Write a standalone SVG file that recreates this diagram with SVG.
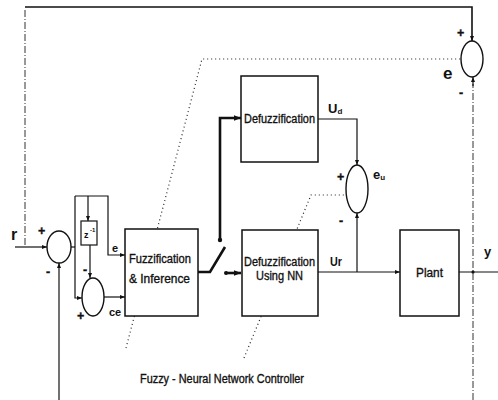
<svg xmlns="http://www.w3.org/2000/svg" width="498" height="400" viewBox="0 0 498 400">
<style>
.ln{fill:none;stroke:#111;stroke-width:1.2}
.thk{fill:none;stroke:#111;stroke-width:2.6}
.dot{fill:none;stroke:#222;stroke-width:1.2;stroke-dasharray:1 3}
.dsh{fill:none;stroke:#333;stroke-width:1;stroke-dasharray:7 2 1 2}
.box{fill:#fff;stroke:#111;stroke-width:1.5}
.sum{fill:#fff;stroke:#111;stroke-width:1.4}
text{font-family:"Liberation Sans",Arial,sans-serif;fill:#111}
.t{font-size:12.5px;stroke:#111;stroke-width:0.35}
.b{font-weight:bold}
</style>
<defs>
<marker id="ah" viewBox="0 0 10 10" refX="10" refY="5" markerWidth="5" markerHeight="5" orient="auto" markerUnits="userSpaceOnUse">
<path d="M0,1 L10,5 L0,9 z" fill="#111"/>
</marker>
<marker id="ahb" viewBox="0 0 10 10" refX="10" refY="5" markerWidth="7" markerHeight="7" orient="auto" markerUnits="userSpaceOnUse">
<path d="M0,1 L10,5 L0,9 z" fill="#111"/>
</marker>
</defs>

<g id="connectors">
<path class="dsh" d="M25,245 V8"/>
<path class="ln" d="M25,7 H472 V41" marker-end="url(#ah)" style="stroke-width:1.6"/>
<path class="ln" d="M15,247 H47" marker-end="url(#ah)"/>
<path class="ln" d="M59,400 V263" marker-end="url(#ah)"/>
<path class="ln" d="M71,247 H75"/>
<path class="ln" d="M75,196 V298 H82" marker-end="url(#ah)"/>
<path class="ln" d="M75,196 H108 V255 H125" marker-end="url(#ah)"/>
<path class="ln" d="M88,196 V221" marker-end="url(#ah)"/>
<path class="ln" d="M90,245 V278" marker-end="url(#ah)"/>
<path class="ln" d="M104,297 H125" marker-end="url(#ah)"/>
<path class="thk" d="M198,272 H210 L225,247"/>
<path class="thk" d="M220,240 V118 H241" marker-end="url(#ahb)"/>
<circle cx="220" cy="240" r="2.2" fill="#111"/>
<circle cx="226" cy="273" r="2" fill="#111"/>
<path class="thk" d="M226,273 H241" marker-end="url(#ahb)"/>
<path class="ln" d="M318,119 H357 V165" marker-end="url(#ah)"/>
<path class="ln" d="M318,272 H400" marker-end="url(#ah)"/>
<path class="ln" d="M357,272 V213" marker-end="url(#ah)"/>
<path class="dsh" d="M473,400 V84"/>
<path class="ln" d="M473,86 V77" marker-end="url(#ah)"/>
<path class="ln" d="M459,272 H498"/>
<circle cx="473" cy="272" r="1.6" fill="#111"/>
<path class="dot" d="M126,348 L202,59 H461"/>
<path class="dot" d="M244,358 L311,195 H346"/>
</g>

<g id="sum-r">
<ellipse class="sum" cx="59" cy="247" rx="12" ry="16"/>
<text x="38" y="235" class="t b">+</text>
<text x="46" y="276" class="t b">-</text>
</g>
<g id="z-delay">
<rect class="box" x="81" y="221" width="16" height="24" style="stroke-width:1.2"/>
<text x="84" y="238" style="font-size:9px;font-weight:bold">z</text>
<text x="90" y="232" style="font-size:6px;font-weight:bold">-1</text>
</g>
<g id="sum-ce">
<ellipse class="sum" cx="93" cy="297" rx="11" ry="19"/>
<text x="83" y="274" class="t b">-</text>
<text x="77" y="320" class="t b">+</text>
</g>
<g id="fuzz">
<rect class="box" x="125" y="229" width="73" height="87"/>
<text x="129" y="263" class="t" textLength="62" lengthAdjust="spacingAndGlyphs">Fuzzification</text>
<text x="129" y="283" class="t" textLength="61" lengthAdjust="spacingAndGlyphs">&amp; Inference</text>
</g>
<g id="defuzz">
<rect class="box" x="241" y="76" width="77" height="86"/>
<text x="244" y="123" class="t" textLength="71" lengthAdjust="spacingAndGlyphs">Defuzzification</text>
</g>
<g id="defuzz-nn">
<rect class="box" x="242" y="230" width="76" height="86"/>
<text x="244" y="266" class="t" textLength="71" lengthAdjust="spacingAndGlyphs">Defuzzification</text>
<text x="256" y="280" class="t" textLength="47" lengthAdjust="spacingAndGlyphs">Using NN</text>
</g>
<g id="sum-u">
<ellipse class="sum" cx="357" cy="189" rx="11" ry="24"/>
<text x="337" y="181" class="t b">+</text>
<text x="339" y="225" class="t b">-</text>
</g>
<g id="plant">
<rect class="box" x="400" y="230" width="59" height="86"/>
<text x="416" y="277" class="t" textLength="27" lengthAdjust="spacingAndGlyphs">Plant</text>
</g>
<g id="sum-e">
<ellipse class="sum" cx="472" cy="59" rx="11" ry="18"/>
<text x="457" y="37" class="t b">+</text>
<text x="459" y="97" class="t b">-</text>
</g>

<g id="labels">
<text x="11" y="240" style="font-size:16px;font-weight:bold">r</text>
<text x="112" y="252" style="font-size:11px;font-weight:bold">e</text>
<text x="109" y="316" style="font-size:11px;font-weight:bold">ce</text>
<text x="443" y="79" style="font-size:17px;font-weight:bold">e</text>
<text x="328" y="113" style="font-size:13px;font-weight:bold">U<tspan style="font-size:8px" dy="1">d</tspan></text>
<text x="373" y="179" style="font-size:13px;font-weight:bold">e<tspan style="font-size:8px" dy="1">u</tspan></text>
<text x="330" y="266" style="font-size:13px;font-weight:bold" textLength="12" lengthAdjust="spacingAndGlyphs">Ur</text>
<text x="484" y="256" style="font-size:13px;font-weight:bold">y</text>
<text x="140" y="383" class="t" textLength="164" lengthAdjust="spacingAndGlyphs">Fuzzy - Neural Network Controller</text>
</g>
</svg>
